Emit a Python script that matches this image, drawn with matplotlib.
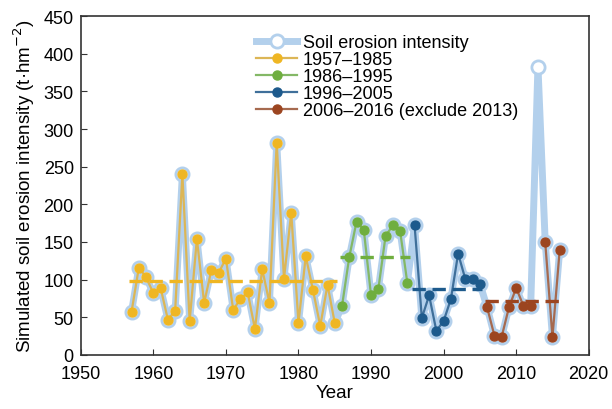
import matplotlib.pyplot as plt
import numpy as np

plt.rcParams['font.family'] = ['Liberation Sans', 'DejaVu Sans']

years = np.arange(1957, 2017)
erosion = [
    57.5, 116, 103, 82, 89, 47, 58, 240, 45, 154,            # 1957-1966
    69, 113, 109, 128, 60, 74, 83, 34.5, 114, 69,             # 1967-1976
    282, 101, 189, 42.5, 131, 86, 38.5, 93, 42.5,             # 1977-1985
    65, 130, 177, 166, 79, 87, 158, 172, 165, 95.5,           # 1986-1995
    172, 49, 79, 32, 45, 74, 134.5, 100.5, 100.7, 94.7,       # 1996-2005
    63, 25.6, 24, 63, 89, 65, 65.5, 383, 150, 23.5, 140,      # 2006-2016
]

periods = [(1957, 1985), (1986, 1995), (1996, 2005), (2006, 2016)]
period_labels = ['1957\u20131985', '1986\u20131995', '1996\u20132005',
                 '2006\u20132016 (exclude 2013)']
period_means = [98.5, 130, 88, 71]
colors = ['#efb623', '#6fae3f', '#1d5a8c', '#9c4520']
line_colors = ['#dcb656', '#84b866', '#3f6f9a', '#a66a4f']
excluded_year = 2013

fig, ax = plt.subplots(figsize=(6.12, 4.10), dpi=100)
fig.subplots_adjust(left=0.132, right=0.962, bottom=0.132, top=0.958)

erosion = np.array(erosion, dtype=float)

# light blue background line for all years
ax.plot(years, erosion, color='#b3d0ec', lw=5, marker='o', ms=9.5,
        mfc='white', mec='#b3d0ec', mew=2, zorder=2,
        label='Soil erosion intensity')

for (start, end), lab, c, lc, m in zip(periods, period_labels, colors,
                                       line_colors, period_means):
    mask = (years >= start) & (years <= end)
    y = erosion[mask].copy()
    yr = years[mask]
    y[yr == excluded_year] = np.nan
    ax.plot(yr, y, color=lc, lw=1.6, marker='o', ms=6.5, mfc=c, mec=c,
            zorder=3, label=lab)
    ax.plot([start - 0.3, end + 0.3], [m, m], color=c, lw=2.4,
            dashes=(4, 2), zorder=4)

ax.set_xlim(1950, 2020)
ax.set_ylim(0, 450)
ax.set_xticks(np.arange(1950, 2021, 10))
ax.set_yticks(np.arange(0, 451, 50))
ax.tick_params(direction='in', labelsize=13, top=False, right=False,
               length=4, color='#333333')
ax.tick_params(axis='x', pad=7)
ax.tick_params(axis='y', pad=5)
for s in ax.spines.values():
    s.set_color('#333333')
    s.set_linewidth(1.2)

ax.set_xlabel('Year', fontsize=13.5, labelpad=2)
ax.set_ylabel('Simulated soil erosion intensity (t\u00b7hm$^{-2}$)',
              fontsize=13.5, labelpad=5)

ax.legend(loc='upper left', bbox_to_anchor=(0.32, 0.985), frameon=False,
          fontsize=13, labelspacing=0, handlelength=2.3,
          handletextpad=0.3, borderpad=0.2)

plt.savefig('out.png', dpi=100)
